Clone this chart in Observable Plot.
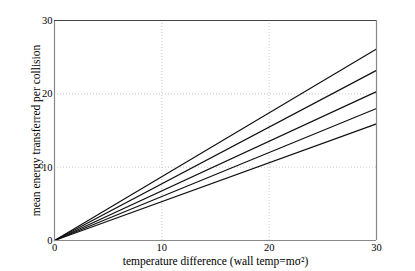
<!DOCTYPE html>
<html>
<head>
<meta charset="utf-8">
<script src="https://cdn.jsdelivr.net/npm/d3@7"></script>
<script src="https://cdn.jsdelivr.net/npm/@observablehq/plot@0.6"></script>
<style>
  html, body { margin: 0; padding: 0; background: #fff; }
</style>
</head>
<body>
<div id="chart"></div>
<script>
const tempDiff = [0, 30];
const series1 = [0, 26.1];
const series2 = [0, 23.2];
const series3 = [0, 20.3];
const series4 = [0, 18.0];
const series5 = [0, 15.9];
const allSeries = [series1, series2, series3, series4, series5];
const xTicks = [0, 10, 20, 30];
const yTicks = [0, 10, 20, 30];
const gridTicks = [10, 20];
const xLabel = "temperature difference (wall temp=mσ²)";
const yLabel = "mean energy transferred per collision";

const rows = [];
allSeries.forEach((s, i) => tempDiff.forEach((t, j) => rows.push({series: i, x: t, y: s[j]})));

const chart = Plot.plot({
  width: 415,
  height: 271,
  marginLeft: 54,
  marginRight: 39,
  marginTop: 20,
  marginBottom: 31,
  style: {fontFamily: "Liberation Serif", fontSize: "10px", color: "#000", background: "#fff"},
  x: {domain: [0, 30], ticks: xTicks, tickSize: 0, tickPadding: 2, label: null},
  y: {domain: [0, 30], ticks: yTicks, tickSize: 0, tickPadding: 2, label: null},
  marks: [
    Plot.ruleX(gridTicks, {stroke: "#bbb", strokeDasharray: "1,2", strokeWidth: 0.8}),
    Plot.ruleY(gridTicks, {stroke: "#bbb", strokeDasharray: "1,2", strokeWidth: 0.8}),
    Plot.line(rows, {x: "x", y: "y", z: "series", stroke: "#111", strokeWidth: 1.2}),
    Plot.ruleX([0], {stroke: "#888", strokeWidth: 1.2}),
    Plot.ruleX([30], {stroke: "#888", strokeWidth: 1.2}),
    Plot.ruleY([0], {stroke: "#888", strokeWidth: 1.2}),
    Plot.ruleY([30], {stroke: "#444", strokeWidth: 1}),
    Plot.axisX({ticks: xTicks, tickSize: 0, tickPadding: 3, fontSize: 10.5, label: null}),
    Plot.axisY({ticks: yTicks, tickSize: 0, tickPadding: 2, fontSize: 10.5, label: null}),
    Plot.text([xLabel], {frameAnchor: "bottom", dy: 24, fontSize: 11.5}),
    Plot.text([yLabel], {frameAnchor: "left", textAnchor: "middle", dx: -18, rotate: -90, fontSize: 11.5})
  ]
});
document.getElementById("chart").appendChild(chart);
</script>
</body>
</html>
